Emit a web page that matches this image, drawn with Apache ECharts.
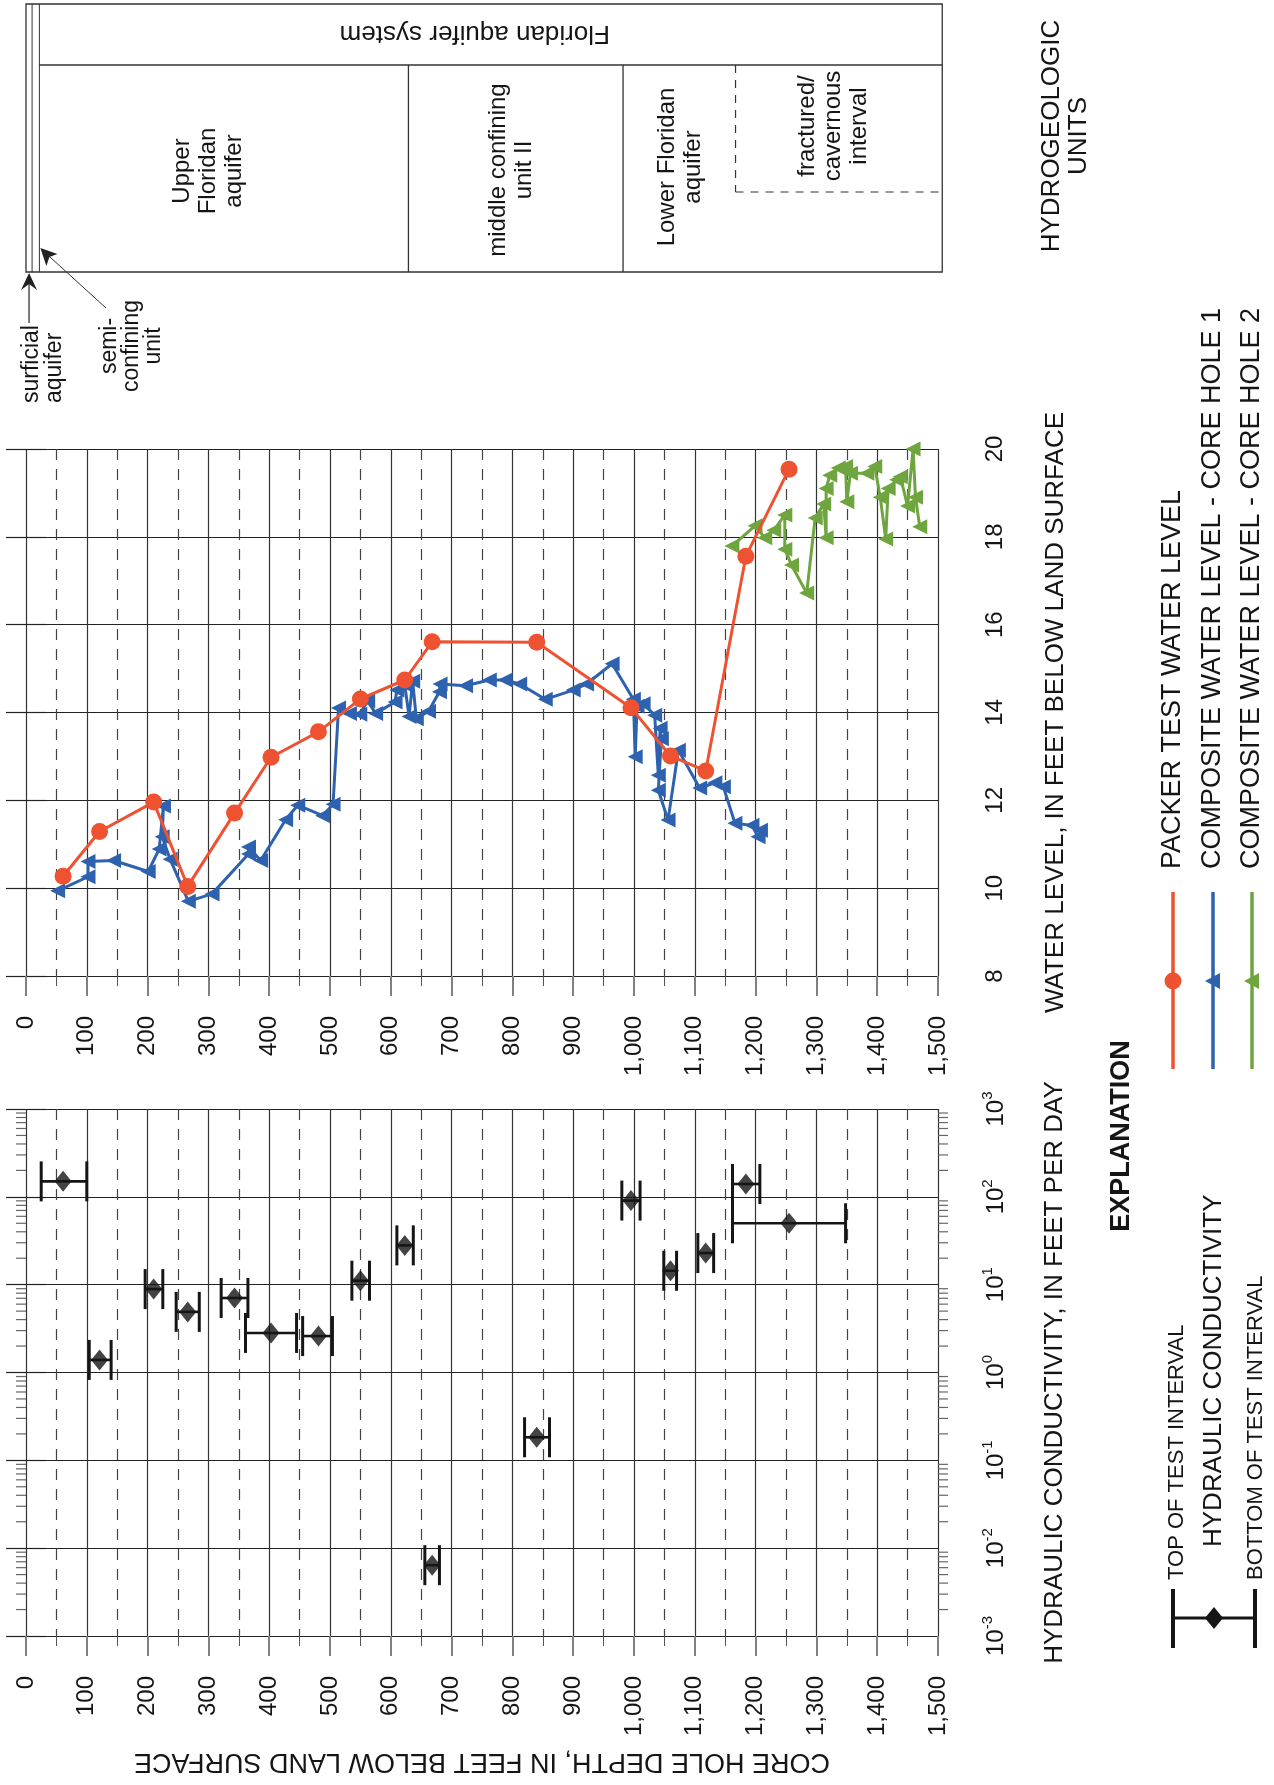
<!DOCTYPE html>
<html><head><meta charset="utf-8">
<script src="https://cdn.jsdelivr.net/npm/echarts@6/dist/echarts.min.js"></script>
<style>html,body{margin:0;padding:0;background:#fff}#c{width:1274px;height:1785px}</style>
</head><body><div id="c"></div>
<script>
// ================= DATA =================
// Packer tests: depth of diamond / red point, test interval, conductivity, water level
const testDepth   = [61, 121, 210, 266, 343, 403, 481, 550, 623, 668, 840, 995, 1060, 1118, 1184, 1255];
const testTop     = [25, 104, 196, 247, 321, 361, 455, 536, 610, 656, 820, 980, 1049, 1105, 1162, 1162];
const testBottom  = [100, 140, 225, 285, 365, 445, 504, 565, 637, 680, 861, 1010, 1070, 1131, 1207, 1348];
const hydK        = [150, 1.39, 8.9, 4.9, 7.05, 2.82, 2.6, 11.1, 28, 0.0064, 0.183, 90.6, 14.4, 22.9, 140, 50];
const packerLevel = [10.27, 11.29, 11.96, 10.04, 11.71, 12.98, 13.56, 14.31, 14.74, 15.61, 15.6, 14.11, 13.01, 12.67, 17.56, 19.54];

// Composite water level - core hole 1 (depth, water level)
const core1Depth = [52, 102, 102, 144, 201, 219, 226, 224, 237, 267, 306, 366, 366, 386, 427, 447, 488, 505,
  514, 532, 549, 562, 575, 607, 610, 623, 630, 636, 642, 662, 680, 681, 723, 762, 788, 812, 854, 900, 922, 964,
  999, 1002, 1005, 1015, 1034, 1040, 1043, 1045, 1040, 1056, 1073, 1108, 1133, 1147, 1166, 1194, 1204, 1208];
const core1Level = [9.94, 10.26, 10.61, 10.63, 10.38, 10.89, 11.87, 11.17, 10.66, 9.70, 9.87, 10.78, 10.94, 10.63, 11.56, 11.89, 11.65, 11.91,
  14.10, 13.98, 13.96, 14.26, 13.98, 14.24, 14.51, 14.63, 13.91, 14.71, 13.86, 14.03, 14.47, 14.65, 14.61, 14.74, 14.74, 14.65, 14.30, 14.51, 14.65, 15.11,
  14.30, 12.99, 14.14, 14.20, 13.94, 12.57, 13.64, 13.40, 12.23, 11.55, 13.14, 12.28, 12.40, 12.31, 11.48, 11.43, 11.17, 11.32];

// Composite water level - core hole 2
const core2Depth = [1161, 1199, 1215, 1230, 1248, 1248, 1259, 1284, 1298, 1312, 1316, 1316, 1322, 1336, 1348, 1350, 1356, 1383, 1396, 1405, 1414, 1418, 1432, 1438, 1450, 1459, 1463, 1470];
const core2Level = [17.79, 18.25, 17.98, 18.15, 18.50, 17.72, 17.36, 16.72, 18.43, 18.75, 17.98, 19.10, 19.40, 19.57, 19.60, 18.80, 19.45, 19.45, 19.60, 18.90, 17.95, 19.10, 19.30, 19.37, 18.70, 20.00, 18.90, 18.23];

// Hydrogeologic units (depth, feet)
const unitLabels      = ['surficial\naquifer', 'semi-\nconfining\nunit', 'Upper\nFloridan\naquifer', 'middle confining\nunit II', 'Lower Floridan\naquifer', 'fractured/\ncavernous\ninterval'];
const unitTopDepth    = [0, 10, 22, 629, 982, 1167];
const unitBottomDepth = [10, 22, 629, 982, 1507, 1507];
const systemLabel = 'Floridan aquifer system';
const systemTopDepth = 22, systemBottomDepth = 1507;

// Axis ranges / ticks
const depthRange = [0, 1500], depthStep = 100;
const levelRange = [8, 20], levelStep = 2;
const kRange = [0.001, 1000];

// Titles
const depthTitle = 'CORE HOLE DEPTH, IN FEET BELOW LAND SURFACE';
const levelTitle = 'WATER LEVEL, IN FEET BELOW LAND SURFACE';
const kTitle = 'HYDRAULIC CONDUCTIVITY, IN FEET PER DAY';
const unitsTitle = 'HYDROGEOLOGIC\nUNITS';
const seriesNames = ['PACKER TEST WATER LEVEL', 'COMPOSITE WATER LEVEL - CORE HOLE 1', 'COMPOSITE WATER LEVEL - CORE HOLE 2'];
const kLegend = ['TOP OF TEST INTERVAL', 'HYDRAULIC CONDUCTIVITY', 'BOTTOM OF TEST INTERVAL'];

// ================= STYLE =================
const RED = '#EE5230', BLUE = '#2E62AE', GREEN = '#6EA53F', INK = '#151515';
const NARROW = '"Liberation Sans Narrow","Arial Narrow","Liberation Sans",Arial,sans-serif';
const REG = '"Liberation Sans",Arial,sans-serif';

const fmtDepth = v => v >= 1000 ? Math.floor(v / 1000) + ',' + String(v % 1000).padStart(3, '0') : String(v);
const zip = (a, b) => a.map((v, i) => [v, b[i]]);

function depthAxis(gi, withName) {
  const ax = {
    gridIndex: gi, type: 'value', min: depthRange[0], max: depthRange[1], interval: depthStep, position: 'bottom',
    axisLine: { show: false },
    axisTick: { show: true, length: 20, lineStyle: { color: '#808080', width: 2 } },
    minorTick: { show: true, splitNumber: 2, length: 10, lineStyle: { color: '#555', width: 1 } },
    splitLine: { show: true, lineStyle: { color: '#333', width: 1.2 } },
    minorSplitLine: { show: true, lineStyle: { color: '#444', width: 1.2, type: [11, 9] } },
    axisLabel: { rotate: 90, margin: 40, fontSize: 24, fontFamily: NARROW, color: INK, formatter: fmtDepth }
  };
  if (withName) Object.assign(ax, {
    name: depthTitle, nameLocation: 'middle', nameRotate: 180, nameGap: 112,
    nameTextStyle: { fontSize: 27, fontFamily: REG, color: INK }
  });
  return ax;
}
function levelAxis(pos) {
  const right = pos === 'right';
  return {
    gridIndex: 1, type: 'value', min: levelRange[0], max: levelRange[1], interval: levelStep, position: pos,
    axisLine: { show: false },
    axisTick: { show: true, length: 20, lineStyle: { color: '#222', width: 1.2 } },
    splitLine: { show: right, lineStyle: { color: '#222', width: 1.2 } },
    axisLabel: { show: right, rotate: 90, margin: 45, fontSize: 24, fontFamily: NARROW, color: INK },
    name: right ? levelTitle : '', nameLocation: 'middle', nameGap: 105,
    nameTextStyle: { fontSize: 26, fontFamily: REG, color: INK }
  };
}
function kAxis(pos) {
  const right = pos === 'right';
  return {
    gridIndex: 2, type: 'log', logBase: 10, min: kRange[0], max: kRange[1], position: pos,
    axisLine: { show: false },
    axisTick: { show: true, length: 20, lineStyle: { color: '#222', width: 1.2 } },
    splitLine: { show: right, lineStyle: { color: '#222', width: 1.2 } },
    axisLabel: {
      show: right, rotate: 90, margin: 42, color: INK,
      formatter: v => '{b|10}{s|' + Math.round(Math.log10(v)) + '}',
      rich: {
        b: { fontSize: 24, fontFamily: NARROW, lineHeight: 28, verticalAlign: 'bottom', color: INK },
        s: { fontSize: 15, fontFamily: NARROW, lineHeight: 15, verticalAlign: 'top', color: INK }
      }
    },
    name: right ? kTitle : '', nameLocation: 'middle', nameGap: 104,
    nameTextStyle: { fontSize: 26, fontFamily: REG, color: INK }
  };
}

// minor log ticks positions (axis decoration)
const kMinor = [];
for (let e = -3; e < 3; e++) for (let m = 2; m <= 9; m++) kMinor.push(m * Math.pow(10, e));

function renderUnits(params, api) {
  const cs = params.coordSys;
  const X = d => api.coord([d, 0])[0];
  const top = cs.y, bot = cs.y + cs.height, band = cs.y + 61, fracBot = band + 127;
  const ls = { stroke: '#333', lineWidth: 1.3, fill: null };
  const ch = [];
  const line = (x1, y1, x2, y2, extra) => ch.push({ type: 'line', shape: { x1, y1, x2, y2 }, style: Object.assign({}, ls, extra || {}) });
  const text = (t, x, y, rot, size, lh, align) => ch.push({
    type: 'text', x, y, rotation: rot,
    style: { text: t, x: 0, y: 0, fill: INK, fontSize: size, fontFamily: REG, lineHeight: lh,
      align: align || 'center', verticalAlign: 'middle', textAlign: align || 'center', textVerticalAlign: 'middle' }
  });
  // outer box
  ch.push({ type: 'rect', shape: { x: X(unitTopDepth[0]), y: top, width: X(systemBottomDepth) - X(unitTopDepth[0]), height: cs.height }, style: ls });
  // thin near-surface units, full height
  line(X(unitBottomDepth[0]), top, X(unitBottomDepth[0]), bot, { lineWidth: 1 });
  line(X(unitBottomDepth[1]), top, X(unitBottomDepth[1]), bot, { lineWidth: 1 });
  // system band
  line(X(systemTopDepth), band, X(systemBottomDepth), band);
  line(X(unitBottomDepth[2]), band, X(unitBottomDepth[2]), bot);
  line(X(unitBottomDepth[3]), band, X(unitBottomDepth[3]), bot);
  // fractured interval (dashed)
  line(X(unitTopDepth[5]), band, X(unitTopDepth[5]), fracBot, { lineDash: [8, 7], lineWidth: 1.2 });
  line(X(unitTopDepth[5]), fracBot, X(unitBottomDepth[5]), fracBot, { lineDash: [8, 7], lineWidth: 1.2 });
  // labels
  const R = Math.PI / 2;
  const mid = i => X((unitTopDepth[i] + unitBottomDepth[i]) / 2);
  text(systemLabel, X((systemTopDepth + systemBottomDepth) / 2) - 16, top + 29, Math.PI, 26, 28);
  text(unitLabels[2], mid(2) - 16, 171, R, 24, 26);
  text(unitLabels[3], mid(3) - 4, 170, R, 24, 26);
  text(unitLabels[4], X((unitTopDepth[4] + unitTopDepth[5]) / 2) + 1, 167, R, 24, 26);
  text(unitLabels[5], mid(5) - 6, 126, R, 24, 26);
  // surficial aquifer label + arrow
  const xs = mid(0);
  text(unitLabels[0], 43.5, 403, R, 23, 23, 'left');
  line(xs, 323, xs, bot + 4, { lineWidth: 1.3 });
  ch.push({ type: 'polygon', shape: { points: [[xs, bot + 1], [xs - 8, bot + 18], [xs, bot + 12], [xs + 8, bot + 18]] }, style: { fill: '#222' } });
  // semi-confining label + arrow
  text(unitLabels[1], 132, 346, R, 23, 22);
  const tx = X(unitBottomDepth[1]) + 1, ty = 248;
  line(106, 308, tx + 3, ty + 3, { lineWidth: 1 });
  ch.push({ type: 'polygon', shape: { points: [[tx, ty], [tx + 17, ty + 6], [tx + 9, ty + 9], [tx + 6, ty + 18]] }, style: { fill: '#222' } });
  return { type: 'group', children: ch };
}

function renderErr(params, api) {
  const a = api.coord([api.value(0), api.value(2)]);
  const b = api.coord([api.value(1), api.value(2)]);
  const st = { stroke: INK, lineWidth: 3 };
  return { type: 'group', children: [
    { type: 'line', shape: { x1: a[0], y1: a[1], x2: b[0], y2: b[1] }, style: { stroke: INK, lineWidth: 2.6 } },
    { type: 'line', shape: { x1: a[0], y1: a[1] - 20, x2: a[0], y2: a[1] + 20 }, style: st },
    { type: 'line', shape: { x1: b[0], y1: b[1] - 20, x2: b[0], y2: b[1] + 20 }, style: st }
  ]};
}
function renderMinor(params, api) {
  const l = api.coord([depthRange[0], api.value(1)]);
  const r = api.coord([depthRange[1], api.value(1)]);
  const st = { stroke: '#666', lineWidth: 1.2 };
  return { type: 'group', children: [
    { type: 'line', shape: { x1: l[0] - 10, y1: l[1], x2: l[0], y2: l[1] }, style: st },
    { type: 'line', shape: { x1: r[0], y1: r[1], x2: r[0] + 10, y2: r[1] }, style: st }
  ]};
}

// ================= LEGEND (graphic) =================
function gtext(t, x, y, size, align, weight) {
  return { type: 'text', x, y, rotation: Math.PI / 2, z: 10,
    style: { text: t, fill: INK, fontSize: size, fontFamily: REG, fontWeight: weight || 'normal',
      align: align, textAlign: align, verticalAlign: 'middle', textVerticalAlign: 'middle', lineHeight: size + 1 } };
}
const legendX = [1173, 1213, 1252], legendColors = [RED, BLUE, GREEN];
const graphic = [];
graphic.push(gtext(unitsTitle, 1065, 136, 26, 'center'));
graphic.push(gtext('EXPLANATION', 1122, 1136, 27, 'center', 'bold'));
legendX.forEach((x, i) => {
  graphic.push({ type: 'line', shape: { x1: x, y1: 892, x2: x, y2: 1069 }, style: { stroke: legendColors[i], lineWidth: 3.5 } });
  if (i === 0) graphic.push({ type: 'circle', shape: { cx: x, cy: 981, r: 8.5 }, style: { fill: RED } });
  else graphic.push({ type: 'polygon', shape: { points: [[x - 8, 981], [x + 7, 973], [x + 7, 989]] }, style: { fill: legendColors[i] } });
  graphic.push(gtext(seriesNames[i], x, 869, 27, 'left'));
});
graphic.push({ type: 'line', shape: { x1: 1173, y1: 1589, x2: 1173, y2: 1648 }, style: { stroke: INK, lineWidth: 4 } });
graphic.push({ type: 'line', shape: { x1: 1255, y1: 1589, x2: 1255, y2: 1648 }, style: { stroke: INK, lineWidth: 4 } });
graphic.push({ type: 'line', shape: { x1: 1173, y1: 1618, x2: 1255, y2: 1618 }, style: { stroke: INK, lineWidth: 3 } });
graphic.push({ type: 'polygon', shape: { points: [[1205, 1618], [1214, 1607], [1223, 1618], [1214, 1629]] }, style: { fill: INK } });
graphic.push(gtext(kLegend[0], 1177, 1580, 22, 'left'));
graphic.push(gtext(kLegend[1], 1214, 1547, 26, 'left'));
graphic.push(gtext(kLegend[2], 1256, 1580, 22, 'left'));

// ================= OPTION =================
const option = {
  animation: false,
  backgroundColor: '#fff',
  grid: [
    { left: 26, top: 4, width: 912, height: 268 },
    { left: 26, top: 449, width: 912, height: 527 },
    { left: 26, top: 1109, width: 912, height: 527 }
  ],
  xAxis: [
    { gridIndex: 0, type: 'value', min: depthRange[0], max: depthRange[1], show: false },
    depthAxis(1, false),
    depthAxis(2, true)
  ],
  yAxis: [
    { gridIndex: 0, type: 'value', min: 0, max: 1, show: false },
    levelAxis('right'), levelAxis('left'),
    kAxis('right'), kAxis('left')
  ],
  graphic: graphic,
  series: [
    { type: 'custom', xAxisIndex: 0, yAxisIndex: 0, data: [[0, 0]], renderItem: renderUnits, silent: true, clip: false },
    { name: seriesNames[2], type: 'line', xAxisIndex: 1, yAxisIndex: 1, data: zip(core2Depth, core2Level), z: 2,
      symbol: 'triangle', symbolRotate: 90, symbolSize: 15, itemStyle: { color: GREEN }, lineStyle: { color: GREEN, width: 3 } },
    { name: seriesNames[1], type: 'line', xAxisIndex: 1, yAxisIndex: 1, data: zip(core1Depth, core1Level), z: 3,
      symbol: 'triangle', symbolRotate: 90, symbolSize: 15, itemStyle: { color: BLUE }, lineStyle: { color: BLUE, width: 3 } },
    { name: seriesNames[0], type: 'line', xAxisIndex: 1, yAxisIndex: 1, data: zip(testDepth, packerLevel), z: 4,
      symbol: 'circle', symbolSize: 17, itemStyle: { color: RED }, lineStyle: { color: RED, width: 3 } },
    { type: 'custom', xAxisIndex: 2, yAxisIndex: 3, data: kMinor.map(k => [0, k]), encode: { x: 0, y: 1 }, renderItem: renderMinor, silent: true, clip: false },
    { type: 'custom', xAxisIndex: 2, yAxisIndex: 3, data: testTop.map((t, i) => [t, testBottom[i], hydK[i]]), encode: { x: [0, 1], y: 2 }, renderItem: renderErr, silent: true },
    { type: 'scatter', xAxisIndex: 2, yAxisIndex: 3, data: zip(testDepth, hydK), symbol: 'diamond', symbolSize: [17, 21], itemStyle: { color: INK }, z: 5 }
  ]
};
const chart = echarts.init(document.getElementById('c'), null, { renderer: 'canvas' });
chart.setOption(option);
</script>
</body></html>
